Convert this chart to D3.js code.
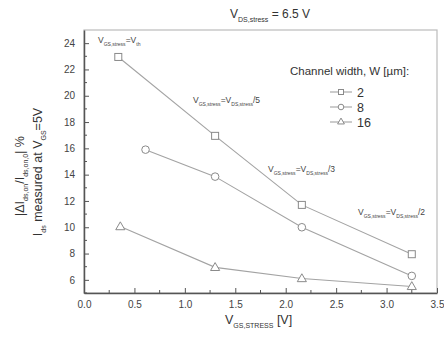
<!DOCTYPE html>
<html>
<head>
<meta charset="utf-8">
<script src="https://cdn.jsdelivr.net/npm/d3@7"></script>
<style>
  body { margin: 0; background: #fff; }
  text { font-family: "Liberation Sans", Arial, sans-serif; fill: #333; }
</style>
</head>
<body>
<script>
const w = 444;
const h = 338;
const margin = { top: 30, right: 7, bottom: 45, left: 84 };

// data
const vgs2 = [0.34, 1.3, 2.16, 3.25];
const w2 = [22.95, 16.95, 11.7, 7.95];
const vgs8 = [0.61, 1.3, 2.16, 3.25];
const w8 = [15.9, 13.85, 10.0, 6.3];
const vgs16 = [0.36, 1.3, 2.16, 3.25];
const w16 = [10.05, 6.95, 6.1, 5.5];
const seriesNames = ["2", "8", "16"];
const xTicks = [0, 0.5, 1, 1.5, 2, 2.5, 3, 3.5];
const yTicks = [6, 8, 10, 12, 14, 16, 18, 20, 22, 24];

const series = [
  { name: seriesNames[0], shape: "square", x: vgs2, y: w2 },
  { name: seriesNames[1], shape: "circle", x: vgs8, y: w8 },
  { name: seriesNames[2], shape: "triangle", x: vgs16, y: w16 }
];

const svg = d3.select("body").append("svg").attr("width", w).attr("height", h);

const xScale = d3.scaleLinear().domain([0, 3.5]).range([margin.left, w - margin.right]);
const yScale = d3.scaleLinear().domain([5, 25]).range([h - margin.bottom, margin.top]);

const lineCol = "#a3a3a3";
const axisCol = "#555";

// frame
svg.append("rect")
  .attr("x", margin.left).attr("y", margin.top)
  .attr("width", w - margin.left - margin.right)
  .attr("height", h - margin.top - margin.bottom)
  .style("fill", "none").style("stroke", "#bbb").style("stroke-width", 1.2);

// axes, ticks pointing inward
const xAxis = d3.axisBottom(xScale).tickValues(xTicks).tickSizeInner(-5).tickSizeOuter(0)
  .tickPadding(8).tickFormat(d3.format(".1f"));
const yAxis = d3.axisLeft(yScale).tickValues(yTicks).tickSizeInner(-5).tickSizeOuter(0)
  .tickPadding(9).tickFormat(d3.format("d"));

const gx = svg.append("g").attr("transform", "translate(0," + (h - margin.bottom) + ")").call(xAxis);
const gy = svg.append("g").attr("transform", "translate(" + margin.left + ",0)").call(yAxis);
[gx, gy].forEach((g) => {
  g.select(".domain").style("stroke", axisCol).style("stroke-width", 1.5);
  g.selectAll(".tick line").style("stroke", axisCol).style("stroke-width", 1);
  g.selectAll("text").style("font-size", "10px").style("fill", "#444")
    .style("font-family", "Liberation Sans, Arial, sans-serif");
});

// minor ticks
svg.append("g").selectAll("line")
  .data(d3.range(0.25, 3.5, 0.5))
  .join("line")
  .attr("x1", (d) => xScale(d)).attr("x2", (d) => xScale(d))
  .attr("y1", h - margin.bottom).attr("y2", h - margin.bottom - 3)
  .style("stroke", axisCol);
svg.append("g").selectAll("line")
  .data(d3.range(5, 25, 2))
  .join("line")
  .attr("x1", margin.left).attr("x2", margin.left + 3)
  .attr("y1", (d) => yScale(d)).attr("y2", (d) => yScale(d))
  .style("stroke", axisCol);

// helper for text with subscripts: parts = [[text, isSub], ...]
function richText(sel, parts, size, subSize) {
  let shift = 0;
  parts.forEach((p) => {
    const t = sel.append("tspan").text(p[0]);
    const target = p[1] ? size * 0.3 : 0;
    t.style("font-size", (p[1] ? subSize : size) + "px").attr("dy", target - shift);
    shift = target;
  });
  return sel;
}

// lines and markers
const line = d3.line().x((d) => xScale(d[0])).y((d) => yScale(d[1]));
function marker(g, shape, cx, cy) {
  if (shape === "square") {
    g.append("rect").attr("x", cx - 3.5).attr("y", cy - 3.5).attr("width", 7).attr("height", 7);
  } else if (shape === "circle") {
    g.append("circle").attr("cx", cx).attr("cy", cy).attr("r", 3.8);
  } else {
    g.append("path").attr("d", d3.symbol(d3.symbolTriangle, 36)()).attr("transform", "translate(" + cx + "," + (cy + 0.5) + ")");
  }
}

series.forEach((s) => {
  const pts = s.x.map((x, i) => [x, s.y[i]]);
  svg.append("path").attr("d", line(pts))
    .style("fill", "none").style("stroke", lineCol).style("stroke-width", 1.1);
  const g = svg.append("g").style("fill", "#fff").style("stroke", "#8a8a8a").style("stroke-width", 1);
  pts.forEach((p) => marker(g, s.shape, xScale(p[0]), yScale(p[1])));
});

// title
richText(svg.append("text").attr("x", 230).attr("y", 18), [["V", false], ["DS,stress", true], [" = 6.5 V", false]], 12, 7);

// x label
richText(svg.append("text").attr("x", 225).attr("y", 324), [["V", false], ["GS,STRESS", true], [" [V]", false]], 12.5, 7);

// y label, two lines
const yl1 = svg.append("text").attr("text-anchor", "middle")
  .attr("transform", "translate(24,176) rotate(-90)");
richText(yl1, [["|ΔI", false], ["ds,on", true], ["/I", false], ["ds,on,0", true], ["| %", false]], 12.5, 7);
const yl2 = svg.append("text").attr("text-anchor", "middle")
  .attr("transform", "translate(42,172) rotate(-90)");
richText(yl2, [["I", false], ["ds", true], [" measured at V", false], ["GS", true], ["=5V", false]], 12.5, 7);

// annotations
const notes = [
  [98, 43, [["V", false], ["GS,stress", true], ["=V", false], ["th", true]]],
  [193, 103, [["V", false], ["GS,stress", true], ["=V", false], ["DS,stress", true], ["/5", false]]],
  [268, 172, [["V", false], ["GS,stress", true], ["=V", false], ["DS,stress", true], ["/3", false]]],
  [358, 215, [["V", false], ["GS,stress", true], ["=V", false], ["DS,stress", true], ["/2", false]]]
];
notes.forEach((n) => {
  richText(svg.append("text").attr("x", n[0]).attr("y", n[1]).style("fill", "#444"), n[2], 8.5, 5);
});

// legend
svg.append("text").attr("x", 290).attr("y", 75).style("font-size", "11.5px").text("Channel width, W [µm]:");
series.forEach((s, i) => {
  const ly = 92 + i * 15;
  svg.append("line").attr("x1", 330).attr("x2", 352).attr("y1", ly).attr("y2", ly)
    .style("stroke", lineCol).style("stroke-width", 1.1);
  const g = svg.append("g").style("fill", "#fff").style("stroke", "#8a8a8a");
  if (s.shape === "square") {
    g.append("rect").attr("x", 338.5).attr("y", ly - 2.5).attr("width", 5).attr("height", 5);
  } else if (s.shape === "circle") {
    g.append("circle").attr("cx", 341).attr("cy", ly).attr("r", 2.8);
  } else {
    g.append("path").attr("d", d3.symbol(d3.symbolTriangle, 20)()).attr("transform", "translate(341," + ly + ")");
  }
  svg.append("text").attr("x", 357).attr("y", ly + 4.5).style("font-size", "12.5px").text(s.name);
});
</script>
</body>
</html>
